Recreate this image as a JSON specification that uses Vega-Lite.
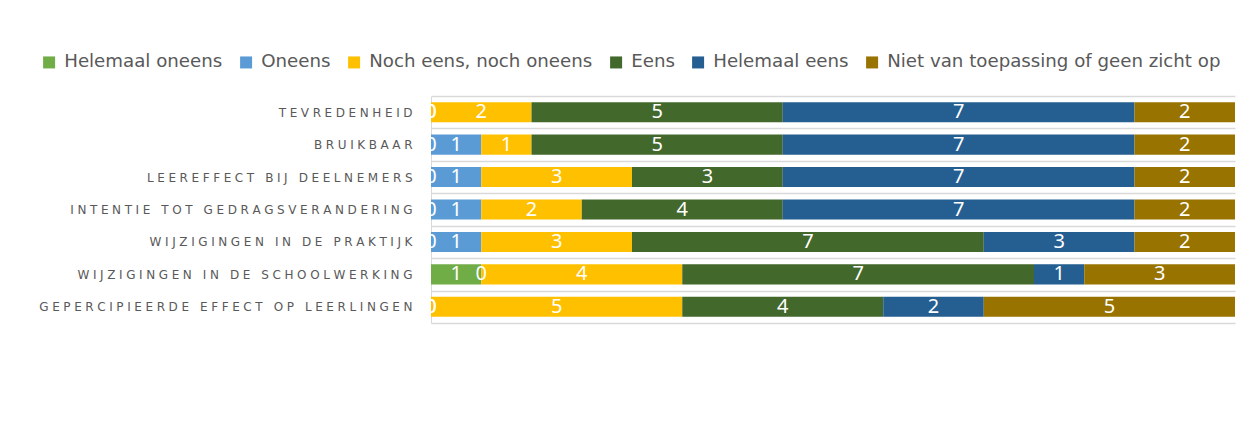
{
  "$schema": "https://vega.github.io/schema/vega-lite/v6.json",
  "width": 804,
  "height": 227,
  "autosize": {"type": "none"},
  "padding": {"left": 431, "top": 96, "right": 17, "bottom": 109},
  "background": "white",
  "data": {"values": [
    {"cat": "TEVREDENHEID", "resp": "Helemaal oneens", "o": 1, "v": 0},
    {"cat": "TEVREDENHEID", "resp": "Oneens", "o": 2, "v": 0},
    {"cat": "TEVREDENHEID", "resp": "Noch eens, noch oneens", "o": 3, "v": 2},
    {"cat": "TEVREDENHEID", "resp": "Eens", "o": 4, "v": 5},
    {"cat": "TEVREDENHEID", "resp": "Helemaal eens", "o": 5, "v": 7},
    {"cat": "TEVREDENHEID", "resp": "Niet van toepassing of geen zicht op", "o": 6, "v": 2},
    {"cat": "BRUIKBAAR", "resp": "Helemaal oneens", "o": 1, "v": 0},
    {"cat": "BRUIKBAAR", "resp": "Oneens", "o": 2, "v": 1},
    {"cat": "BRUIKBAAR", "resp": "Noch eens, noch oneens", "o": 3, "v": 1},
    {"cat": "BRUIKBAAR", "resp": "Eens", "o": 4, "v": 5},
    {"cat": "BRUIKBAAR", "resp": "Helemaal eens", "o": 5, "v": 7},
    {"cat": "BRUIKBAAR", "resp": "Niet van toepassing of geen zicht op", "o": 6, "v": 2},
    {"cat": "LEEREFFECT BIJ DEELNEMERS", "resp": "Helemaal oneens", "o": 1, "v": 0},
    {"cat": "LEEREFFECT BIJ DEELNEMERS", "resp": "Oneens", "o": 2, "v": 1},
    {"cat": "LEEREFFECT BIJ DEELNEMERS", "resp": "Noch eens, noch oneens", "o": 3, "v": 3},
    {"cat": "LEEREFFECT BIJ DEELNEMERS", "resp": "Eens", "o": 4, "v": 3},
    {"cat": "LEEREFFECT BIJ DEELNEMERS", "resp": "Helemaal eens", "o": 5, "v": 7},
    {"cat": "LEEREFFECT BIJ DEELNEMERS", "resp": "Niet van toepassing of geen zicht op", "o": 6, "v": 2},
    {"cat": "INTENTIE TOT GEDRAGSVERANDERING", "resp": "Helemaal oneens", "o": 1, "v": 0},
    {"cat": "INTENTIE TOT GEDRAGSVERANDERING", "resp": "Oneens", "o": 2, "v": 1},
    {"cat": "INTENTIE TOT GEDRAGSVERANDERING", "resp": "Noch eens, noch oneens", "o": 3, "v": 2},
    {"cat": "INTENTIE TOT GEDRAGSVERANDERING", "resp": "Eens", "o": 4, "v": 4},
    {"cat": "INTENTIE TOT GEDRAGSVERANDERING", "resp": "Helemaal eens", "o": 5, "v": 7},
    {"cat": "INTENTIE TOT GEDRAGSVERANDERING", "resp": "Niet van toepassing of geen zicht op", "o": 6, "v": 2},
    {"cat": "WIJZIGINGEN IN DE PRAKTIJK", "resp": "Helemaal oneens", "o": 1, "v": 0},
    {"cat": "WIJZIGINGEN IN DE PRAKTIJK", "resp": "Oneens", "o": 2, "v": 1},
    {"cat": "WIJZIGINGEN IN DE PRAKTIJK", "resp": "Noch eens, noch oneens", "o": 3, "v": 3},
    {"cat": "WIJZIGINGEN IN DE PRAKTIJK", "resp": "Eens", "o": 4, "v": 7},
    {"cat": "WIJZIGINGEN IN DE PRAKTIJK", "resp": "Helemaal eens", "o": 5, "v": 3},
    {"cat": "WIJZIGINGEN IN DE PRAKTIJK", "resp": "Niet van toepassing of geen zicht op", "o": 6, "v": 2},
    {"cat": "WIJZIGINGEN IN DE SCHOOLWERKING", "resp": "Helemaal oneens", "o": 1, "v": 1},
    {"cat": "WIJZIGINGEN IN DE SCHOOLWERKING", "resp": "Oneens", "o": 2, "v": 0},
    {"cat": "WIJZIGINGEN IN DE SCHOOLWERKING", "resp": "Noch eens, noch oneens", "o": 3, "v": 4},
    {"cat": "WIJZIGINGEN IN DE SCHOOLWERKING", "resp": "Eens", "o": 4, "v": 7},
    {"cat": "WIJZIGINGEN IN DE SCHOOLWERKING", "resp": "Helemaal eens", "o": 5, "v": 1},
    {"cat": "WIJZIGINGEN IN DE SCHOOLWERKING", "resp": "Niet van toepassing of geen zicht op", "o": 6, "v": 3},
    {"cat": "GEPERCIPIEERDE EFFECT OP LEERLINGEN", "resp": "Helemaal oneens", "o": 1, "v": 0},
    {"cat": "GEPERCIPIEERDE EFFECT OP LEERLINGEN", "resp": "Oneens", "o": 2, "v": 0},
    {"cat": "GEPERCIPIEERDE EFFECT OP LEERLINGEN", "resp": "Noch eens, noch oneens", "o": 3, "v": 5},
    {"cat": "GEPERCIPIEERDE EFFECT OP LEERLINGEN", "resp": "Eens", "o": 4, "v": 4},
    {"cat": "GEPERCIPIEERDE EFFECT OP LEERLINGEN", "resp": "Helemaal eens", "o": 5, "v": 2},
    {"cat": "GEPERCIPIEERDE EFFECT OP LEERLINGEN", "resp": "Niet van toepassing of geen zicht op", "o": 6, "v": 5}
  ]},
  "transform": [
    {"stack": "v", "groupby": ["cat"], "sort": [{"field": "o", "order": "ascending"}], "as": ["x0", "x1"]},
    {"calculate": "(datum.x0 + datum.x1) / 2", "as": "xmid"}
  ],
  "encoding": {
    "y": {
      "field": "cat",
      "type": "nominal",
      "sort": ["TEVREDENHEID", "BRUIKBAAR", "LEEREFFECT BIJ DEELNEMERS", "INTENTIE TOT GEDRAGSVERANDERING", "WIJZIGINGEN IN DE PRAKTIJK", "WIJZIGINGEN IN DE SCHOOLWERKING", "GEPERCIPIEERDE EFFECT OP LEERLINGEN"],
      "scale": {"paddingInner": 0, "paddingOuter": 0},
      "axis": {
        "title": null,
        "ticks": false,
        "domain": true,
        "domainColor": "#d9d9d9",
        "domainWidth": 1,
        "grid": true,
        "gridColor": "#d9d9d9",
        "gridWidth": 1.5,
        "tickBand": "extent",
        "labelFont": "DejaVu Sans",
        "labelFontSize": 12,
        "labelColor": "#595959",
        "labelPadding": 19,
        "labelLimit": 0,
        "labelExpr": "join(split(datum.label, ''), '\u2009\u200a')"
      }
    }
  },
  "layer": [
    {
      "mark": {"type": "bar", "height": {"band": 0.62}},
      "encoding": {
        "x": {"field": "x0", "type": "quantitative", "scale": {"domain": [0, 16], "nice": false, "zero": true}, "axis": null},
        "x2": {"field": "x1"},
        "color": {
          "field": "resp",
          "type": "nominal",
          "sort": ["Helemaal oneens", "Oneens", "Noch eens, noch oneens", "Eens", "Helemaal eens", "Niet van toepassing of geen zicht op"],
          "scale": {
            "domain": ["Helemaal oneens", "Oneens", "Noch eens, noch oneens", "Eens", "Helemaal eens", "Niet van toepassing of geen zicht op"],
            "range": ["#70AD47", "#5B9BD5", "#FFC000", "#43682B", "#255E91", "#997300"]
          },
          "legend": {
            "title": null,
            "orient": "none",
            "legendX": -391,
            "legendY": -43,
            "direction": "horizontal",
            "columns": 6,
            "columnPadding": 14,
            "symbolType": "square",
            "symbolSize": 144,
            "symbolStrokeWidth": 0,
            "labelFont": "DejaVu Sans",
            "labelFontSize": 18.2,
            "labelColor": "#595959",
            "labelOffset": 6,
            "labelLimit": 0,
            "padding": 0
          }
        }
      }
    },
    {
      "mark": {"type": "text", "color": "white", "fontSize": 20, "font": "Noto Sans", "clip": true},
      "encoding": {
        "x": {"field": "xmid", "type": "quantitative"},
        "text": {"field": "v", "type": "quantitative"}
      }
    }
  ],
  "config": {"view": {"stroke": null}}
}
